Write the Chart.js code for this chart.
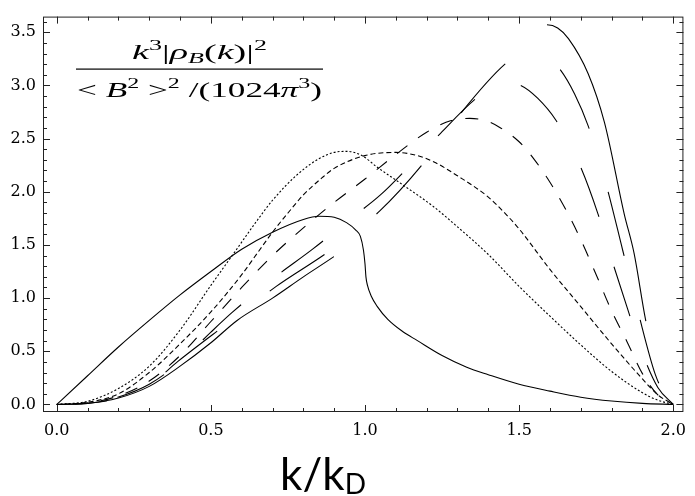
<!DOCTYPE html>
<html>
<head>
<meta charset="utf-8">
<script src="https://cdn.jsdelivr.net/npm/chart.js@4.4.0/dist/chart.umd.min.js"></script>
<style>
  html, body { margin: 0; padding: 0; background: #fff; }
</style>
</head>
<body>
<canvas id="chart" width="695" height="496"></canvas>
<script>
// tick labels
const xTicks = [0, 0.5, 1.0, 1.5, 2.0];
const yTicks = [0, 0.5, 1.0, 1.5, 2.0, 2.5, 3.0, 3.5];

// solid curve (kink at k = kD)
const aX = [0, 0.1, 0.2, 0.3, 0.4, 0.5, 0.6, 0.7, 0.8, 0.85, 0.9, 0.94, 0.97, 0.985, 0.995, 1.0, 1.003, 1.008, 1.02, 1.04, 1.074, 1.12, 1.17, 1.25, 1.33, 1.4, 1.5, 1.6, 1.7, 1.8, 1.9, 2.0];
const aY = [0, 0.27, 0.54, 0.79, 1.03, 1.25, 1.46, 1.62, 1.74, 1.77, 1.76, 1.71, 1.64, 1.58, 1.45, 1.32, 1.2, 1.12, 1.02, 0.92, 0.8, 0.69, 0.6, 0.46, 0.35, 0.28, 0.19, 0.125, 0.068, 0.032, 0.01, 0];

// dotted
const bX = [0, 0.1, 0.2, 0.3, 0.4, 0.5, 0.574, 0.65, 0.7, 0.776, 0.85, 0.9, 0.94, 0.99, 1.04, 1.12, 1.22, 1.3, 1.4, 1.5, 1.6, 1.7, 1.8, 1.9, 1.95, 2.0];
const bY = [0, 0.03, 0.15, 0.36, 0.7, 1.12, 1.42, 1.73, 1.92, 2.15, 2.31, 2.37, 2.38, 2.34, 2.23, 2.07, 1.865, 1.67, 1.41, 1.11, 0.83, 0.56, 0.31, 0.11, 0.04, 0];

// short dash
const cX = [0, 0.1, 0.2, 0.3, 0.4, 0.5, 0.6, 0.65, 0.7, 0.75, 0.8, 0.86, 0.9, 1.0, 1.1, 1.17, 1.224, 1.3, 1.4, 1.45, 1.5, 1.6, 1.7, 1.8, 1.9, 1.95, 2.0];
const cY = [0, 0.02, 0.1, 0.3, 0.57, 0.87, 1.22, 1.42, 1.62, 1.8, 1.97, 2.13, 2.22, 2.34, 2.37, 2.34, 2.28, 2.15, 1.95, 1.81, 1.65, 1.27, 0.92, 0.57, 0.24, 0.09, 0];

// medium dash
const dX = [0, 0.1, 0.2, 0.3, 0.4, 0.5, 0.6, 0.7, 0.8, 0.9, 1.0, 1.1, 1.2, 1.28, 1.34, 1.4, 1.44, 1.5, 1.55, 1.6, 1.65, 1.7, 1.75, 1.8, 1.85, 1.9, 1.95, 2.0];
const dY = [0, 0.015, 0.08, 0.22, 0.46, 0.78, 1.1, 1.4, 1.66, 1.9, 2.12, 2.35, 2.56, 2.67, 2.69, 2.66, 2.6, 2.47, 2.3, 2.09, 1.84, 1.55, 1.22, 0.88, 0.59, 0.29, 0.09, 0];

// long dash
const eX = [0, 0.1, 0.2, 0.3, 0.4, 0.5, 0.569, 0.7, 0.83, 0.957, 1.05, 1.15, 1.245, 1.357, 1.44, 1.505, 1.56, 1.62, 1.697, 1.756, 1.804, 1.855, 1.9, 1.95, 2.0];
const eY = [0, 0.012, 0.07, 0.19, 0.4, 0.68, 0.865, 1.18, 1.46, 1.755, 1.97, 2.26, 2.55, 2.87, 3.03, 3.0, 2.88, 2.67, 2.25, 1.79, 1.33, 0.87, 0.48, 0.16, 0];

// longer dash
const fX = [0, 0.1, 0.2, 0.3, 0.393, 0.548, 0.712, 0.888, 1.048, 1.19, 1.3, 1.454, 1.52, 1.58, 1.633, 1.68, 1.724, 1.785, 1.836, 1.886, 1.942, 1.975, 2.0];
const fY = [0, 0.01, 0.06, 0.18, 0.405, 0.75, 1.11, 1.45, 1.82, 2.27, 2.7, 3.2, 3.32, 3.3, 3.15, 2.92, 2.62, 2.04, 1.45, 0.87, 0.28, 0.08, 0];

// longest dash
const gX = [0, 0.1, 0.2, 0.3, 0.4, 0.5, 0.585, 0.7, 0.8, 0.899, 1.0, 1.1, 1.2, 1.3, 1.4, 1.5, 1.56, 1.59, 1.625, 1.66, 1.724, 1.777, 1.841, 1.873, 1.91, 1.95, 1.98, 2.0];
const gY = [0, 0.01, 0.06, 0.17, 0.36, 0.58, 0.79, 1.0, 1.2, 1.39, 1.6, 1.85, 2.15, 2.5, 2.88, 3.27, 3.5, 3.57, 3.54, 3.44, 3.11, 2.65, 1.79, 1.42, 0.8, 0.3, 0.08, 0];

function pts(xs, ys) {
  return xs.map((v, i) => ({ x: v, y: ys[i] }));
}

function curve(xs, ys, dash) {
  return {
    data: pts(xs, ys),
    borderColor: '#000',
    borderWidth: 1.1,
    borderDash: dash,
    borderDashOffset: 0,
    pointRadius: 0,
    fill: false,
    cubicInterpolationMode: 'monotone'
  };
}

// length of the drawn curve from its start up to pixel x = px
function lengthTo(meta, px) {
  const p = meta.data;
  let len = 0;
  for (let j = 0; j < p.length - 1; j++) {
    const a = p[j], b = p[j + 1];
    let px0 = a.x, py0 = a.y;
    for (let k = 1; k <= 40; k++) {
      const t = k / 40, u = 1 - t;
      const x = u * u * u * a.x + 3 * u * u * t * a.cp2x + 3 * u * t * t * b.cp1x + t * t * t * b.x;
      const y = u * u * u * a.y + 3 * u * u * t * a.cp2y + 3 * u * t * t * b.cp1y + t * t * t * b.y;
      const seg = Math.hypot(x - px0, y - py0);
      if (x >= px) {
        return len + seg * (px - px0) / Math.max(x - px0, 1e-6);
      }
      len += seg;
      px0 = x; py0 = y;
    }
  }
  return len;
}

// draws a run of text pieces, stretched to a given width
function drawRuns(ctx, runs, cx, base, width) {
  const size = 22, small = 15;
  const fontOf = r => (r.it ? 'italic ' : '') + ((r.sup || r.sub) ? small : size) + 'px "Liberation Serif", serif';
  let w = 0;
  runs.forEach(r => { ctx.font = fontOf(r); r.w = ctx.measureText(r.t).width; w += r.w; });
  const sx = width / w;
  ctx.save();
  ctx.translate(cx - width / 2, base);
  ctx.scale(sx, 1);
  let x = 0;
  runs.forEach(r => {
    ctx.font = fontOf(r);
    const dy = r.sup ? -9 : (r.sub ? 4 : 0);
    ctx.fillText(r.t, x, dy);
    x += r.w;
  });
  ctx.restore();
}

const frame = {
  id: 'frame',
  afterDatasetsDraw(chart) {
    const { ctx, chartArea: a, scales: { x, y } } = chart;
    ctx.save();
    ctx.strokeStyle = '#222';
    ctx.lineWidth = 1;
    ctx.strokeRect(a.left + 0.5, a.top + 0.5, a.right - a.left - 1, a.bottom - a.top - 1);
    ctx.beginPath();
    for (let i = 0; i <= 20; i++) {
      const px = Math.round(x.getPixelForValue(i / 10)) + 0.5;
      const len = i % 5 === 0 ? 7 : 4;
      ctx.moveTo(px, a.bottom); ctx.lineTo(px, a.bottom - len);
      ctx.moveTo(px, a.top); ctx.lineTo(px, a.top + len);
    }
    for (let i = 0; i <= 36; i++) {
      const py = Math.round(y.getPixelForValue(i / 10)) + 0.5;
      const len = i % 5 === 0 ? 7 : 4;
      ctx.moveTo(a.left, py); ctx.lineTo(a.left + len, py);
      ctx.moveTo(a.right, py); ctx.lineTo(a.right - len, py);
    }
    ctx.stroke();
    ctx.restore();
  },
  afterDraw(chart) {
    const ctx = chart.ctx;
    ctx.save();
    ctx.fillStyle = '#000';
    ctx.textBaseline = 'alphabetic';
    drawRuns(ctx, [
      { t: 'k', it: 1 }, { t: '3', sup: 1 }, { t: '|' }, { t: 'ρ', it: 1 }, { t: 'B', it: 1, sub: 1 },
      { t: '(' }, { t: 'k', it: 1 }, { t: ')' }, { t: '|' }, { t: '2', sup: 1 }
    ], 199.5, 59, 135);
    ctx.fillRect(76, 68.5, 247, 1.2);
    drawRuns(ctx, [
      { t: '< ' }, { t: 'B', it: 1 }, { t: '2', sup: 1 }, { t: ' >' }, { t: '2', sup: 1 },
      { t: ' /(' }, { t: '1024' }, { t: 'π', it: 1 }, { t: '3', sup: 1 }, { t: ')' }
    ], 199.5, 97, 245);

    // axis title k/kD
    ctx.font = '44px Lato, "DejaVu Sans", sans-serif';
    const main = 'k/k';
    const wm = ctx.measureText(main).width;
    ctx.font = '28px Lato, "DejaVu Sans", sans-serif';
    const ws = ctx.measureText('D').width;
    const x0 = 323 - (wm + ws) / 2;
    ctx.font = '44px Lato, "DejaVu Sans", sans-serif';
    ctx.fillText(main, x0, 490);
    ctx.font = '28px Lato, "DejaVu Sans", sans-serif';
    ctx.fillText('D', x0 + wm, 494);
    ctx.restore();
  }
};

const chart = new Chart(document.getElementById('chart'), {
  type: 'line',
  data: {
    datasets: [
      curve(aX, aY, []),
      curve(bX, bY, [2, 2]),
      curve(cX, cY, [5, 3]),
      curve(dX, dY, [13, 13]),
      curve(eX, eY, [52, 52]),
      curve(fX, fY, [66, 66]),
      curve(gX, gY, [330, 330])
    ]
  },
  options: {
    responsive: false,
    animation: false,
    layout: { padding: { left: 0, right: 2, top: 8, bottom: 0 } },
    plugins: { legend: { display: false }, tooltip: { enabled: false } },
    scales: {
      x: {
        type: 'linear',
        min: -0.0447,
        max: 2.033,
        afterBuildTicks: s => { s.ticks = xTicks.map(v => ({ value: v })); },
        afterFit: s => { s.height = 84; },
        grid: { display: false, drawTicks: false },
        border: { display: false },
        ticks: {
          padding: 9,
          color: '#000',
          font: { family: '"DejaVu Serif", serif', size: 16 },
          callback: v => v.toFixed(1),
          maxRotation: 0
        }
      },
      y: {
        type: 'linear',
        min: -0.071,
        max: 3.647,
        afterBuildTicks: s => { s.ticks = yTicks.map(v => ({ value: v })); },
        afterFit: s => { s.width = 43; },
        grid: { display: false, drawTicks: false },
        border: { display: false },
        ticks: {
          padding: 7,
          color: '#000',
          font: { family: '"DejaVu Serif", serif', size: 16 },
          callback: v => v.toFixed(1)
        }
      }
    }
  },
  plugins: [frame]
});

// line up the dash phases with the breaks seen in the original figure
const xs = chart.scales.x;
function phase(idx, period, atX) {
  const s0 = lengthTo(chart.getDatasetMeta(idx), xs.getPixelForValue(atX));
  chart.data.datasets[idx].borderDashOffset = ((period - s0 % period) % period);
}
phase(3, 26, 1.325);
phase(4, 104, 1.505);
phase(5, 132, 1.633);
const gMeta = chart.getDatasetMeta(6);
const g1 = lengthTo(gMeta, xs.getPixelForValue(0.899));
const g2 = lengthTo(gMeta, xs.getPixelForValue(1.59));
chart.data.datasets[6].borderDash = [g1, g2 - g1];
chart.update('none');
</script>
</body>
</html>
